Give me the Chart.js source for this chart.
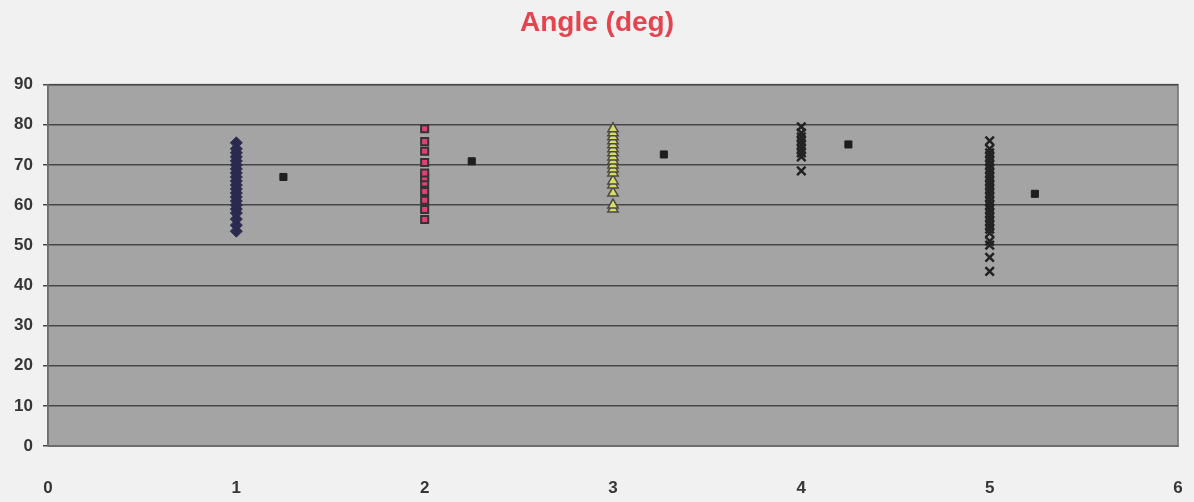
<!DOCTYPE html>
<html>
<head>
<meta charset="utf-8">
<script src="https://cdn.jsdelivr.net/npm/chart.js@4/dist/chart.umd.min.js"></script>
<style>
  html, body { margin: 0; padding: 0; background: #f1f1f1; }
  #wrap { width: 1194px; height: 502px; }
</style>
</head>
<body>
<div id="wrap"><canvas id="angleChart"></canvas></div>
<script>
// angle readings per group
const group1 = [53.5, 55, 56.5, 58, 59, 60, 61, 62, 63, 64, 65, 66, 67, 68, 69, 70, 71, 72, 73, 74, 75.5];
const group2 = [56.4, 58.9, 61.2, 63.4, 65.5, 66.8, 68, 70.6, 73.4, 75.8, 79];
const group3 = [59, 60, 63, 65, 66, 68, 69, 70, 71, 72, 73, 74, 75, 76, 77, 78, 79];
const group4 = [68.5, 72, 73, 74, 75, 76, 77, 78, 79.5];
const group5 = [43.5, 47, 50, 51, 53, 54, 55, 56, 57, 58, 59, 60, 61, 62, 63, 64, 65, 66, 67, 68, 69, 70, 71, 72, 73, 74, 76];

const meanX = [1.25, 2.25, 3.27, 4.25, 5.24];
const meanY = [67, 70.9, 72.6, 75.1, 62.8];

const xTicks = [0, 1, 2, 3, 4, 5, 6];

const column = (x, vals) => vals.map((v) => ({ x, y: v }));

const plotBackground = {
  id: "plotBackground",
  beforeDraw(chart) {
    const { ctx, chartArea: a } = chart;
    ctx.save();
    ctx.fillStyle = "#a4a4a4";
    ctx.fillRect(a.left, a.top, a.right - a.left, a.bottom - a.top);
    ctx.strokeStyle = "#6e6e6e";
    ctx.lineWidth = 1.5;
    ctx.strokeRect(a.left, a.top, a.right - a.left, a.bottom - a.top);
    ctx.restore();
  },
};

const tickFont = { family: "Arial, 'Liberation Sans', sans-serif", size: 17, weight: "bold" };

new Chart(document.getElementById("angleChart"), {
  type: "scatter",
  data: {
    datasets: [
      {
        data: column(1, group1),
        pointStyle: "rectRot",
        pointRadius: 6,
        backgroundColor: "#2a2a4e",
        borderColor: "#2a2a4e",
      },
      {
        data: column(2, group2),
        pointStyle: "rect",
        pointRadius: 5,
        backgroundColor: "#e0407a",
        borderColor: "#333333",
        borderWidth: 2,
      },
      {
        data: column(3, group3),
        pointStyle: "triangle",
        pointRadius: 6,
        backgroundColor: "#d6dc64",
        borderColor: "#4a4a40",
        borderWidth: 1.5,
      },
      {
        data: column(4, group4),
        pointStyle: "crossRot",
        pointRadius: 6,
        borderColor: "#222222",
        borderWidth: 2.5,
      },
      {
        data: column(5, group5),
        pointStyle: "crossRot",
        pointRadius: 6,
        borderColor: "#222222",
        borderWidth: 2.5,
      },
      {
        data: meanX.map((x, i) => ({ x, y: meanY[i] })),
        pointStyle: "rect",
        pointRadius: 5,
        backgroundColor: "#1e1e1e",
        borderColor: "#1e1e1e",
      },
    ],
  },
  options: {
    responsive: true,
    maintainAspectRatio: false,
    animation: false,
    layout: { padding: 0 },
    plugins: {
      legend: { display: false },
      tooltip: { enabled: false },
      title: {
        display: true,
        text: "Angle (deg)",
        color: "#e5444f",
        font: { family: "Arial, 'Liberation Sans', sans-serif", size: 28, weight: "bold", lineHeight: 1.2 },
        padding: { top: 6, bottom: 45 },
      },
    },
    scales: {
      x: {
        type: "linear",
        min: 0,
        max: 6,
        afterBuildTicks: (s) => { s.ticks = xTicks.map((v) => ({ value: v })); },
        grid: { display: false },
        border: { display: true, color: "#6e6e6e", width: 1.5 },
        ticks: { color: "#363636", font: tickFont, padding: 24 },
        afterFit: (s) => {
          s.height = 56;
          s.paddingLeft = 0;
          s.paddingRight = 16;
        },
      },
      y: {
        min: 0,
        max: 90,
        ticks: { stepSize: 10, color: "#363636", font: tickFont, padding: 10 },
        grid: { color: "#474747", lineWidth: 1.5, tickLength: 5 },
        border: { display: true, color: "#6e6e6e", width: 1.5 },
        afterFit: (s) => { s.width = 48; },
      },
    },
  },
  plugins: [plotBackground],
});
</script>
</body>
</html>
